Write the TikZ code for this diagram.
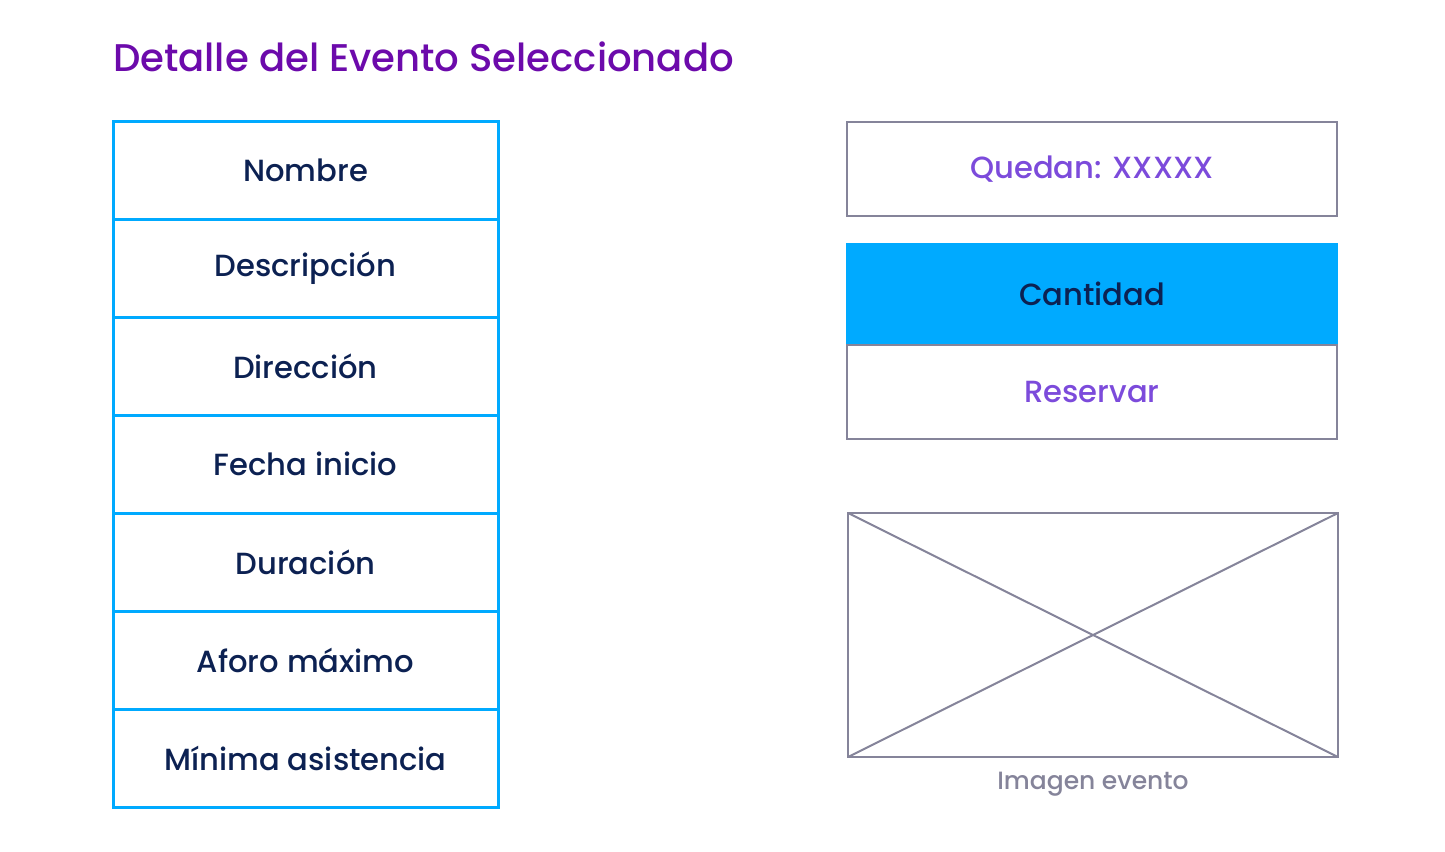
\documentclass[tikz,border=0pt]{standalone}
\usepackage{fontspec}
\setmainfont{Poppins Medium}
\usetikzlibrary{positioning}
\definecolor{celeste}{HTML}{00AAFF}
\definecolor{marino}{HTML}{0C2152}
\definecolor{violeta}{HTML}{6C0AAB}
\definecolor{lila}{HTML}{7C4BDB}
\definecolor{gris}{HTML}{85849A}
\tikzset{
  campo/.style={draw=celeste,line width=1.5pt,outer sep=0pt,minimum width=192.5pt,minimum height=49pt,text=marino,font=\fontsize{15.3}{18}\selectfont},
  caja/.style={draw=gris,line width=1pt,outer sep=0pt,minimum width=245pt,minimum height=47pt,text=lila,font=\fontsize{15.3}{18}\selectfont}
}
\begin{document}
\begin{tikzpicture}[x=0.5pt,y=-0.5pt]
\useasboundingbox (0,0) rectangle (1445,851);
\node[anchor=west,text=violeta,font=\fontsize{19.3}{23}\selectfont] (titulo) at (106,57) {Detalle del Evento Seleccionado};
% columna de campos
\node[campo,anchor=north west] (c1) at (113,121) {Nombre};
\foreach \n/\t [count=\p from 1] in {2/Descripción,3/Dirección,4/Fecha inicio,5/Duración,6/Aforo máximo,7/Mínima asistencia}
  \node[campo,below=0pt of c\p] (c\n) {\t};
% reserva
\node[caja,anchor=north west] (quedan) at (847,122) {Quedan: XXXXX};
\node[caja,fill=celeste,draw=none,text=marino,minimum height=51pt,minimum width=246pt,anchor=north west] (cantidad) at (846,243) {Cantidad};
\node[caja,below=0pt of cantidad] (reservar) {Reservar};
% imagen
\node[draw=gris,line width=1pt,outer sep=0pt,minimum width=245pt,minimum height=122pt,anchor=north west] (imagen) at (848,513) {};
\draw[gris,line width=1pt] (imagen.north west) -- (imagen.south east);
\draw[gris,line width=1pt] (imagen.south west) -- (imagen.north east);
\node[below=4pt of imagen,text=gris,font=\fontsize{12.5}{15}\selectfont] (pie) {Imagen evento};
\end{tikzpicture}
\end{document}
